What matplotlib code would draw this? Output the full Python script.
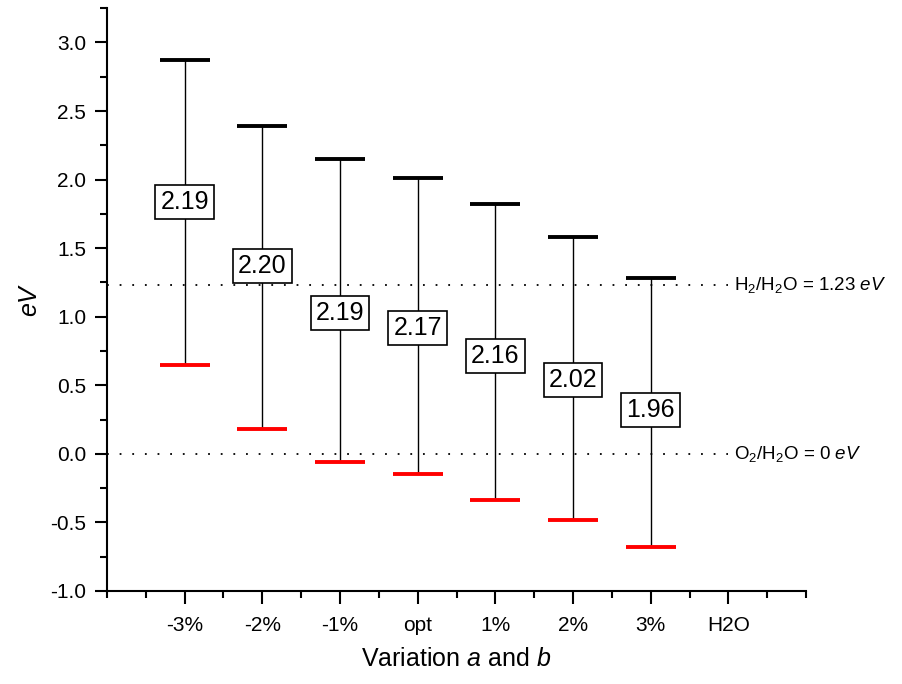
# band edges vs lattice variation
import numpy as np
import matplotlib.pyplot as plt
from matplotlib.ticker import MultipleLocator

plt.rcParams['font.family'] = ['Liberation Sans', 'DejaVu Sans']
plt.rcParams['mathtext.fontset'] = 'custom'
plt.rcParams['mathtext.rm'] = 'Liberation Sans'
plt.rcParams['mathtext.it'] = 'Liberation Sans:italic'

# ---- DATA ----
categories = ["-3%", "-2%", "-1%", "opt", "1%", "2%", "3%", "H2O"]
cbm = [2.87, 2.39, 2.15, 2.01, 1.82, 1.58, 1.28]
vbm = [0.65, 0.18, -0.06, -0.15, -0.34, -0.48, -0.68]
gap_labels = ["2.19", "2.20", "2.19", "2.17", "2.16", "2.02", "1.96"]
label_y = [1.84, 1.37, 1.03, 0.92, 0.71, 0.54, 0.32]
h2_level = 1.23
o2_level = 0.0

x = np.arange(1, len(categories) + 1)
xs = x[:len(cbm)]

fig = plt.figure(figsize=(9.02, 6.84), dpi=100)
ax = fig.add_axes([0.1186, 0.136, 0.775, 0.852])

# vertical lines
ax.vlines(xs, vbm, cbm, color="black", lw=1.0, zorder=2)
# caps
half = 0.32
ax.hlines(cbm, xs - half, xs + half, color="black", lw=2.8, zorder=3)
ax.hlines(vbm, xs - half, xs + half, color="red", lw=2.8, zorder=3)

# reference levels
ax.plot([0, x[-1]], [h2_level, h2_level], color="black", ls=(0, (1, 6)), lw=1.3, zorder=1)
ax.plot([0, x[-1]], [o2_level, o2_level], color="black", ls=(0, (1, 6)), lw=1.3, zorder=1)
ax.text(x[-1] + 0.07, h2_level, "H$_2$/H$_2$O = 1.23 $eV$", fontsize=13.5, va="center", ha="left")
ax.text(x[-1] + 0.07, o2_level, "O$_2$/H$_2$O = 0 $eV$", fontsize=13.5, va="center", ha="left")

# gap labels
for xi, yi, lab in zip(xs, label_y, gap_labels):
    ax.text(xi, yi, lab, fontsize=18, ha="center", va="center", zorder=4,
            bbox=dict(boxstyle="square,pad=0.2", fc="white", ec="black", lw=1.2))

ax.set_xlim(0, 9)
ax.set_ylim(-1.0, 3.25)
ax.set_xticks(x)
ax.set_xticklabels(categories)
ax.xaxis.set_minor_locator(MultipleLocator(0.5))
ax.yaxis.set_major_locator(MultipleLocator(0.5))
ax.yaxis.set_minor_locator(MultipleLocator(0.25))
ax.yaxis.set_major_formatter(plt.FormatStrFormatter("%.1f"))

for s in ["top", "right"]:
    ax.spines[s].set_visible(False)
for s in ["left", "bottom"]:
    ax.spines[s].set_linewidth(1.5)

ax.tick_params(which="major", direction="out", length=9, width=1.5, labelsize=15, pad=6)
ax.tick_params(which="minor", direction="out", length=5, width=1.5)
ax.tick_params(axis="x", which="major", pad=9)

ax.set_xlabel("Variation $a$ and $b$", fontsize=18, labelpad=9)
ax.set_ylabel("$eV$", fontsize=18, labelpad=6)

fig.savefig("out.png", dpi=100)
